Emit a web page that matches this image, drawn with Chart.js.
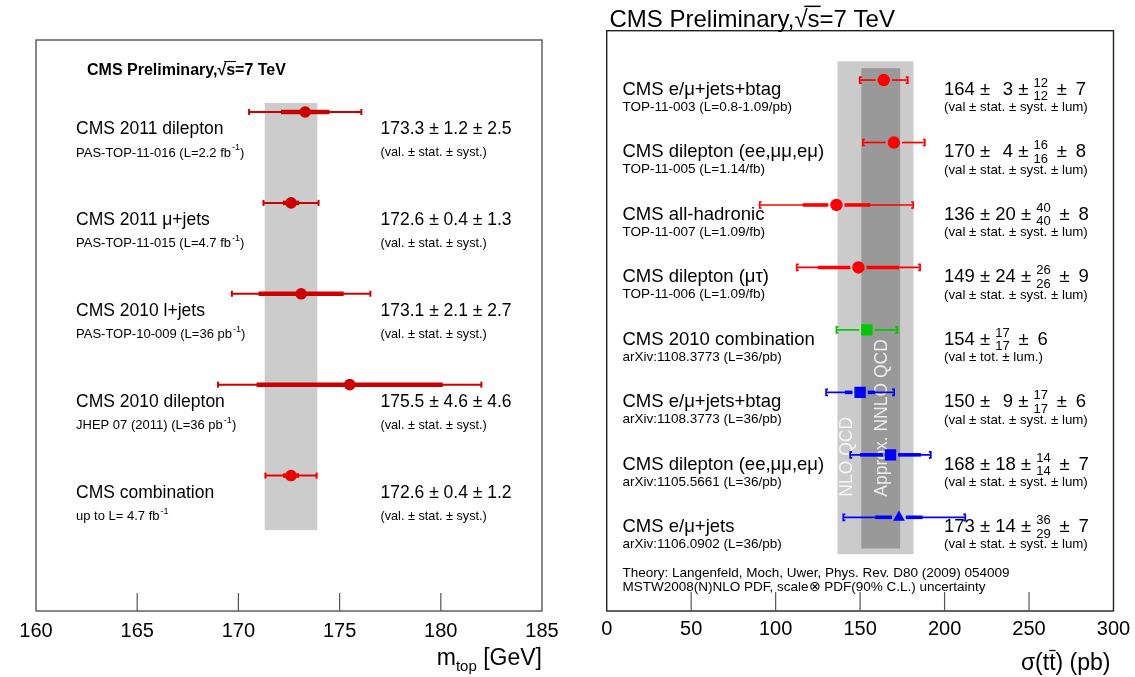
<!DOCTYPE html>
<html>
<head>
<meta charset="utf-8">
<script src="https://cdn.jsdelivr.net/npm/chart.js@4.4.1/dist/chart.umd.min.js"></script>
<style>
  body { margin: 0; background: #fff; }
  #wrap { position: relative; width: 1135px; height: 677px; overflow: hidden; }
  #wrap canvas { position: absolute; left: 0; top: 0; }
</style>
</head>
<body>
<div id="wrap">
  <canvas id="massChart" width="1135" height="677"></canvas>
  <canvas id="xsecChart" width="1135" height="677"></canvas>
</div>
<script>
// LEFT: top quark mass measurements
const massLabels = ['CMS 2011 dilepton', 'CMS 2011 \u03bc+jets', 'CMS 2010 l+jets', 'CMS 2010 dilepton', 'CMS combination']
const massRefs = ['PAS-TOP-11-016 (L=2.2 fb^{-1})', 'PAS-TOP-11-015 (L=4.7 fb^{-1})', 'PAS-TOP-10-009 (L=36 pb^{-1})',
                  'JHEP 07 (2011) (L=36 pb^{-1})', 'up to L= 4.7 fb^{-1}']
const massValues = [173.3, 172.6, 173.1, 175.5, 172.6]
const massStat = [1.2, 0.4, 2.1, 4.6, 0.4]
const massSyst = [2.5, 1.3, 2.7, 4.6, 1.2]
const massBand = [171.3, 173.9]
const massTicks = [160, 165, 170, 175, 180, 185]

// RIGHT: ttbar cross section measurements
const xsecLabels = ['CMS e/\u03bc+jets+btag', 'CMS dilepton (ee,\u03bc\u03bc,e\u03bc)', 'CMS all-hadronic', 'CMS dilepton (\u03bc\u03c4)',
                    'CMS 2010 combination', 'CMS e/\u03bc+jets+btag', 'CMS dilepton (ee,\u03bc\u03bc,e\u03bc)', 'CMS e/\u03bc+jets']
const xsecRefs = ['TOP-11-003 (L=0.8-1.09/pb)', 'TOP-11-005 (L=1.14/fb)', 'TOP-11-007 (L=1.09/fb)', 'TOP-11-006 (L=1.09/fb)',
                  'arXiv:1108.3773 (L=36/pb)', 'arXiv:1108.3773 (L=36/pb)', 'arXiv:1105.5661 (L=36/pb)', 'arXiv:1106.0902 (L=36/pb)']
const xsecValues = [164, 170, 136, 149, 154, 150, 168, 173]
const xsecStat = [3, 4, 20, 24, null, 9, 18, 14]      // null = combination, only total quoted
const xsecSystUp = [12, 16, 40, 26, 17, 17, 14, 36]
const xsecSystDown = [12, 16, 40, 26, 17, 17, 14, 29]
const xsecLumi = [7, 8, 8, 9, 6, 6, 7, 7]
const xsecNloBand = [136.6, 181.6]
const xsecNnloBand = [150.7, 173.7]
const xsecTicks = [0, 50, 100, 150, 200, 250, 300]
const theoryNote = ['Theory: Langenfeld, Moch, Uwer, Phys. Rev. D80 (2009) 054009',
                    'MSTW2008(N)NLO PDF, scale\u2297 PDF(90% C.L.) uncertainty']

const FONT = '"Liberation Sans", Arial, Helvetica, sans-serif'

function $(x) {
  return document.getElementById(x)
}

function line(ctx, x1, y1, x2, y2) {
  ctx.beginPath()
  ctx.moveTo(x1, y1)
  ctx.lineTo(x2, y2)
  ctx.stroke()
}

// draws text with ^{..} superscripts, left aligned
function richText(ctx, txt, x, y, size) {
  let parts = txt.split(/\^\{([^}]*)\}/)
  ctx.textAlign = 'left'
  for (let i = 0; i < parts.length; i++) {
    if (!parts[i]) continue
    if (i % 2 == 1) {
      ctx.font = (size * 0.7) + 'px ' + FONT
      ctx.fillText(parts[i], x + 1, y - size * 0.42)
      x += ctx.measureText(parts[i]).width + 1
    } else {
      ctx.font = size + 'px ' + FONT
      ctx.fillText(parts[i], x, y)
      x += ctx.measureText(parts[i]).width
    }
  }
}

function sqrtTitle(ctx, x, y, size, bold) {
  ctx.font = (bold ? 'bold ' : '') + size + 'px ' + FONT
  ctx.textAlign = 'left'
  ctx.textBaseline = 'alphabetic'
  ctx.fillStyle = '#000'
  ctx.strokeStyle = '#000'
  let a = 'CMS Preliminary,', s = 's'
  ctx.fillText(a, x, y)
  x += ctx.measureText(a).width
  ctx.fillText('\u221a', x, y)
  let ox = x + ctx.measureText('\u221a').width * 0.75
  x += ctx.measureText('\u221a').width
  ctx.fillText(s + '=7 TeV', x, y)
  ctx.lineWidth = size / 16
  line(ctx, ox, y - size * 0.84, x + ctx.measureText(s).width + 1, y - size * 0.84)
}

function bottomAxis(chart, ticks, len, size, labelY, frameCol) {
  let ctx = chart.ctx, xs = chart.scales.x, a = chart.chartArea
  ctx.save()
  ctx.strokeStyle = frameCol
  ctx.lineWidth = 1.4
  ctx.strokeRect(a.left, a.top, a.right - a.left, a.bottom - a.top)
  ctx.lineWidth = 1.2
  ctx.strokeStyle = '#555'
  ctx.fillStyle = '#000'
  ctx.font = size + 'px ' + FONT
  ctx.textAlign = 'center'
  ctx.textBaseline = 'middle'
  for (let t of ticks) {
    let px = xs.getPixelForValue(t)
    if (t != xs.min && t != xs.max) line(ctx, px, a.bottom, px, a.bottom - len)
    ctx.fillText(String(t), px, labelY)
  }
  ctx.restore()
}

// ---------- left panel ----------
function massColor(i) {
  return i == massValues.length - 1 ? '#ee0000' : '#cc0000'
}

const massPlugin = {
  id: 'massPlugin',
  beforeDatasetsDraw(chart) {
    let ctx = chart.ctx, xs = chart.scales.x, ys = chart.scales.y
    ctx.save()
    ctx.fillStyle = '#cccccc'
    let bl = xs.getPixelForValue(massBand[0]), br = xs.getPixelForValue(massBand[1])
    let bt = ys.getPixelForValue(-0.1), bb = ys.getPixelForValue(massValues.length - 1 + 0.6)
    ctx.fillRect(bl, bt, br - bl, bb - bt)
    for (let i = 0; i < massValues.length; i++) {
      let tot = Math.hypot(massStat[i], massSyst[i])
      let y = ys.getPixelForValue(i)
      let lo = xs.getPixelForValue(massValues[i] - tot), hi = xs.getPixelForValue(massValues[i] + tot)
      ctx.strokeStyle = massColor(i)
      ctx.lineWidth = 2
      line(ctx, lo, y, hi, y)
      line(ctx, lo, y - 3, lo, y + 3)
      line(ctx, hi, y - 3, hi, y + 3)
      ctx.lineWidth = 4.5
      line(ctx, xs.getPixelForValue(massValues[i] - massStat[i]), y, xs.getPixelForValue(massValues[i] + massStat[i]), y)
    }
    ctx.restore()
  },
  afterDraw(chart) {
    let ctx = chart.ctx, ys = chart.scales.y
    bottomAxis(chart, massTicks, 18, 20, 631, '#555')
    ctx.save()
    sqrtTitle(ctx, 87, 75, 16, true)
    ctx.fillStyle = '#000'
    ctx.textBaseline = 'middle'
    for (let i = 0; i < massValues.length; i++) {
      let y = ys.getPixelForValue(i)
      ctx.font = '17.5px ' + FONT
      ctx.textAlign = 'left'
      ctx.fillText(massLabels[i], 76, y + 17.2)
      ctx.fillText(massValues[i].toFixed(1) + ' \u00b1 ' + massStat[i].toFixed(1) + ' \u00b1 ' + massSyst[i].toFixed(1), 380.5, y + 17.2)
      richText(ctx, massRefs[i], 76, y + 41, 13)
      ctx.font = '12.7px ' + FONT
      ctx.fillText('(val. \u00b1 stat. \u00b1 syst.)', 380.5, y + 41)
    }
    // m_top [GeV]
    ctx.textBaseline = 'alphabetic'
    ctx.font = '23px ' + FONT
    let w1 = ctx.measureText('m').width, w3 = ctx.measureText(' [GeV]').width
    ctx.font = '15px ' + FONT
    let w2 = ctx.measureText('top').width
    let x0 = chart.chartArea.right - (w1 + w2 + w3)
    ctx.font = '23px ' + FONT
    ctx.fillText('m', x0, 665)
    ctx.fillText(' [GeV]', x0 + w1 + w2, 665)
    ctx.font = '15px ' + FONT
    ctx.fillText('top', x0 + w1, 671)
    ctx.restore()
  }
}

new Chart($('massChart').getContext('2d'), {
  type: 'scatter',
  data: {
    datasets: [{
      label: 'm_top',
      data: massValues.map((v, i) => ({ x: v, y: i })),
      pointStyle: 'circle',
      pointRadius: 5.8,
      pointBackgroundColor: massValues.map((v, i) => massColor(i)),
      pointBorderWidth: 0
    }]
  },
  options: {
    responsive: false,
    animation: false,
    layout: { padding: { left: 36, top: 40, right: 593, bottom: 66 } },
    plugins: { legend: { display: false }, tooltip: { enabled: false } },
    scales: {
      x: { type: 'linear', min: 160, max: 185, display: false },
      y: { type: 'linear', min: -0.792, max: 5.49, reverse: true, display: false }
    }
  },
  plugins: [massPlugin]
})

// ---------- right panel ----------
const xsecPointColor = ['#ff0000', '#ff0000', '#ff0000', '#ff0000', '#00c800', '#0000ff', '#0000ff', '#0000ff']
const xsecPointStyle = ['circle', 'circle', 'circle', 'circle', 'rect', 'rect', 'rect', 'triangle']
const xsecPointRadius = [6.2, 6.2, 6.2, 6.2, 8, 8, 8, 6.8]

function xsecValueText(ctx, i, x, y) {
  let main = '18.5px ' + FONT, small = '13px ' + FONT
  function put(t) {
    ctx.font = main
    ctx.fillText(t, x, y)
    x += ctx.measureText(t).width
  }
  function stack(up, down) {
    ctx.font = small
    let w = Math.max(ctx.measureText(String(up)).width, ctx.measureText(String(down)).width)
    ctx.textAlign = 'center'
    ctx.fillText(String(up), x + w / 2, y - 6.5)
    ctx.fillText(String(down), x + w / 2, y + 7)
    ctx.textAlign = 'left'
    x += w
  }
  ctx.textAlign = 'left'
  if (xsecStat[i] == null) {
    put(xsecValues[i] + ' \u00b1 ')
    stack(xsecSystUp[i], xsecSystDown[i])
    put(' \u2009\u00b1 \u2009' + xsecLumi[i])
  } else {
    put(xsecValues[i] + ' \u00b1 ' + (xsecStat[i] < 10 ? '\u2009\u2009' : '') + xsecStat[i] + ' \u00b1 ')
    stack(xsecSystUp[i], xsecSystDown[i])
    put(' \u2009\u00b1 \u2009' + xsecLumi[i])
  }
}

const xsecPlugin = {
  id: 'xsecPlugin',
  beforeDatasetsDraw(chart) {
    let ctx = chart.ctx, xs = chart.scales.x, ys = chart.scales.y
    let last = xsecValues.length - 1
    ctx.save()
    ctx.fillStyle = '#cbcbcb'
    let l = xs.getPixelForValue(xsecNloBand[0]), r = xs.getPixelForValue(xsecNloBand[1])
    let t = ys.getPixelForValue(-0.3), b = ys.getPixelForValue(last + 0.59)
    ctx.fillRect(l, t, r - l, b - t)
    ctx.fillStyle = '#999999'
    l = xs.getPixelForValue(xsecNnloBand[0]); r = xs.getPixelForValue(xsecNnloBand[1])
    t = ys.getPixelForValue(-0.19); b = ys.getPixelForValue(last + 0.5)
    ctx.fillRect(l, t, r - l, b - t)

    // band captions, vertical
    ctx.fillStyle = 'rgba(255,255,255,0.82)'
    ctx.font = '17.5px ' + FONT
    ctx.textAlign = 'left'
    ctx.textBaseline = 'middle'
    let yb = ys.getPixelForValue(6.67)
    ctx.save()
    ctx.translate(xs.getPixelForValue(142.2), yb)
    ctx.rotate(-Math.PI / 2)
    ctx.fillText('NLO QCD', 0, 0)
    ctx.restore()
    ctx.save()
    ctx.translate(xs.getPixelForValue(162.8), yb)
    ctx.rotate(-Math.PI / 2)
    ctx.fillText('Approx. NNLO QCD', 0, 0)
    ctx.restore()

    // error bars
    for (let i = 0; i < xsecValues.length; i++) {
      let v = xsecValues[i], s = xsecStat[i] || 0
      let up = Math.hypot(s, xsecSystUp[i], xsecLumi[i]), dn = Math.hypot(s, xsecSystDown[i], xsecLumi[i])
      let y = ys.getPixelForValue(i), cx = xs.getPixelForValue(v)
      let gap = (xsecPointStyle[i] == 'circle' ? xsecPointRadius[i] : xsecPointRadius[i] * 0.72) + 2
      let lo = xs.getPixelForValue(v - dn), hi = xs.getPixelForValue(v + up)
      ctx.strokeStyle = xsecPointColor[i]
      function seg(a, c) {
        if (a < cx - gap) line(ctx, a, y, Math.min(c, cx - gap), y)
        if (c > cx + gap) line(ctx, Math.max(a, cx + gap), y, c, y)
      }
      ctx.lineWidth = 1.7
      seg(lo, hi)
      // bracket end caps
      ctx.beginPath()
      ctx.moveTo(lo + 2, y - 3); ctx.lineTo(lo, y - 3); ctx.lineTo(lo, y + 3); ctx.lineTo(lo + 2, y + 3)
      ctx.moveTo(hi - 2, y - 3); ctx.lineTo(hi, y - 3); ctx.lineTo(hi, y + 3); ctx.lineTo(hi - 2, y + 3)
      ctx.stroke()
      if (xsecStat[i] != null) {
        ctx.lineWidth = 3.6
        seg(xs.getPixelForValue(v - s), xs.getPixelForValue(v + s))
      }
    }
    ctx.restore()
  },
  afterDraw(chart) {
    let ctx = chart.ctx, ys = chart.scales.y, a = chart.chartArea
    bottomAxis(chart, xsecTicks, 19, 20, 629, '#222')
    ctx.save()
    sqrtTitle(ctx, 609.5, 26.5, 24, false)
    ctx.fillStyle = '#000'
    ctx.textBaseline = 'middle'
    ctx.textAlign = 'left'
    for (let i = 0; i < xsecValues.length; i++) {
      let y = ys.getPixelForValue(i)
      ctx.font = '18.5px ' + FONT
      ctx.fillText(xsecLabels[i], 622.5, y + 9.7)
      ctx.font = '13.5px ' + FONT
      ctx.fillText(xsecRefs[i], 622.5, y + 27)
      xsecValueText(ctx, i, 944, y + 9.7)
      ctx.font = '13.3px ' + FONT
      ctx.fillText(xsecStat[i] == null ? '(val \u00b1 tot. \u00b1 lum.)' : '(val \u00b1 stat. \u00b1 syst. \u00b1 lum)', 944, y + 27.5)
    }
    ctx.font = '13.5px ' + FONT
    ctx.fillText(theoryNote[0], 622.5, 573)
    ctx.fillText(theoryNote[1], 622.5, 587)

    // sigma(t tbar) (pb)
    ctx.textBaseline = 'alphabetic'
    ctx.font = '23px ' + FONT
    let pre = '\u03c3(t', tb = 't', post = ') (pb)'
    let w = ctx.measureText(pre + tb + post).width
    let x0 = a.right - 3 - w
    ctx.fillText(pre + tb + post, x0, 670)
    let tx = x0 + ctx.measureText(pre).width
    ctx.lineWidth = 1.3
    ctx.strokeStyle = '#000'
    line(ctx, tx, 650.5, tx + ctx.measureText(tb).width, 650.5)
    ctx.restore()
  }
}

new Chart($('xsecChart').getContext('2d'), {
  type: 'scatter',
  data: {
    datasets: [{
      label: 'sigma_ttbar',
      data: xsecValues.map((v, i) => ({ x: v, y: i })),
      pointStyle: xsecPointStyle,
      pointRadius: xsecPointRadius,
      pointBackgroundColor: xsecPointColor,
      pointBorderWidth: 0
    }]
  },
  options: {
    responsive: false,
    animation: false,
    layout: { padding: { left: 606.7, top: 30.7, right: 21.5, bottom: 66 } },
    plugins: { legend: { display: false }, tooltip: { enabled: false } },
    scales: {
      x: { type: 'linear', min: 0, max: 300, display: false },
      y: { type: 'linear', min: -0.79, max: 8.5, reverse: true, display: false }
    }
  },
  plugins: [xsecPlugin]
})
</script>
</body>
</html>
